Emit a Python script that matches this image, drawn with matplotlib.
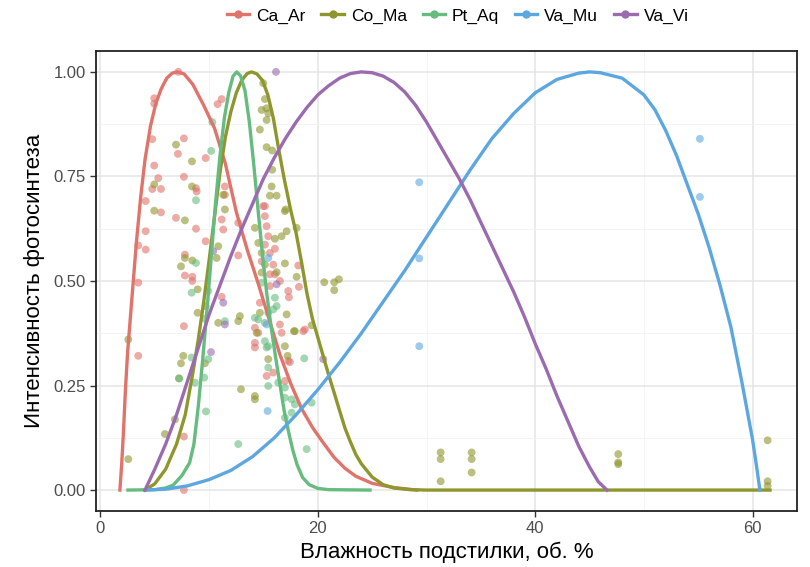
import matplotlib
matplotlib.use("Agg")
import matplotlib.pyplot as plt
from matplotlib.lines import Line2D
from matplotlib.ticker import MultipleLocator, FuncFormatter

plt.rcParams['font.family'] = ['Liberation Sans', 'DejaVu Sans']

species = ['Ca_Ar', 'Co_Ma', 'Pt_Aq', 'Va_Mu', 'Va_Vi']
colors = ['#E0736A', '#8E962E', '#66BB7E', '#5DA7E1', '#9B6BB0']

# observed points (moisture %, photosynthesis intensity)
ca_ar_x = [7.16, 4.95, 4.95, 4.77, 7.68, 7.13, 4.95, 5.32, 4.77, 5.57, 7.68, 8.79, 8.85, 9.68,
           10.78, 11.15, 4.16, 5.57, 6.95, 4.16, 3.48, 4.16, 3.48, 8.79, 7.77, 9.68, 7.77, 8.45,
           8.45, 7.68, 3.48, 7.68, 7.68, 11.45, 11.45, 15.13, 11.15, 11.3, 12.68, 12.68, 14.98,
           15.13, 15.29, 15.44, 15.13, 15.59, 16.05, 14.83, 15.9, 16.05, 16.51, 15.59, 18.2, 18.26,
           17.34, 14.67, 11.15, 14.21, 14.52, 16.51, 16.67, 18.81, 14.21, 14.21, 15.59, 15.29,
           17.43, 16.97, 15.9, 17.28, 18.66, 17.28]
ca_ar_y = [1.0, 0.937, 0.924, 0.839, 0.841, 0.804, 0.776, 0.746, 0.72, 0.72, 0.749, 0.722, 0.714, 0.794,
           0.923, 0.935, 0.691, 0.664, 0.651, 0.619, 0.585, 0.575, 0.496, 0.625, 0.563, 0.595, 0.513, 0.51,
           0.50, 0.392, 0.321, 0.128, 0.0, 0.726, 0.706, 0.679, 0.647, 0.623, 0.639, 0.561, 0.679,
           0.655, 0.631, 0.607, 0.587, 0.567, 0.577, 0.547, 0.539, 0.516, 0.5, 0.488, 0.537, 0.486,
           0.461, 0.448, 0.462, 0.388, 0.376, 0.396, 0.376, 0.384, 0.352, 0.341, 0.516, 0.273,
           0.306, 0.261, 0.281, 0.476, 0.38, 0.309]

co_ma_x = [6.95, 8.42, 8.42, 4.95, 4.95, 7.77, 7.77, 8.45, 7.41, 8.94, 9.68, 8.94, 2.56, 2.56, 7.62,
           7.41, 7.22, 9.61, 5.93, 6.85, 14.98, 15.13, 14.83, 15.29, 15.44, 15.29, 14.67, 15.29, 15.8,
           15.8, 15.75, 16.21, 15.59, 17.04, 11.3, 11.45, 14.21, 16.97, 17.13, 16.67, 16.05, 18.05,
           14.52, 14.83, 15.13, 16.97, 16.21, 18.05, 14.83, 10.84, 10.69, 20.59, 21.51, 21.94, 21.51,
           12.83, 12.68, 17.13, 17.89, 19.43, 16.97, 14.37, 14.67, 10.84, 17.22, 12.93, 14.21, 14.21,
           15.44, 17.8, 31.3, 31.3, 31.3, 34.15, 34.15, 34.15, 47.64, 47.64, 47.64, 61.38, 61.38, 61.38]
co_ma_y = [0.826, 0.786, 0.726, 0.731, 0.668, 0.645, 0.555, 0.549, 0.535, 0.48, 0.44, 0.424, 0.36, 0.074, 0.321,
           0.303, 0.267, 0.303, 0.134, 0.169, 0.973, 0.935, 0.909, 0.913, 0.901, 0.885, 0.862, 0.82, 0.812,
           0.766, 0.726, 0.704, 0.704, 0.671, 0.706, 0.671, 0.627, 0.667, 0.619, 0.607, 0.601, 0.627,
           0.591, 0.567, 0.539, 0.542, 0.521, 0.51, 0.52, 0.583, 0.555, 0.497, 0.497, 0.504, 0.478,
           0.416, 0.404, 0.42, 0.38, 0.394, 0.344, 0.376, 0.424, 0.4, 0.321, 0.241, 0.225, 0.217,
           0.313, 0.38, 0.09, 0.074, 0.021, 0.09, 0.074, 0.042, 0.086, 0.066, 0.062, 0.119, 0.021, 0.01]

pt_aq_x = [10.29, 10.19, 8.79, 8.79, 8.39, 9.92, 9.61, 8.39, 7.25, 9.55, 8.69, 9.71, 9.92, 14.52, 15.13,
           16.05, 16.21, 15.44, 14.83, 15.13, 15.44, 11.45, 15.9, 14.21, 15.29, 15.44, 16.36, 16.97,
           16.97, 17.59, 17.89, 19.43, 17.59, 16.97, 18.75, 12.68, 18.97, 15.44]
pt_aq_y = [0.88, 0.811, 0.693, 0.543, 0.472, 0.476, 0.41, 0.317, 0.267, 0.269, 0.257, 0.188, 0.313, 0.408, 0.4,
           0.46, 0.44, 0.424, 0.496, 0.356, 0.344, 0.404, 0.432, 0.412, 0.341, 0.293, 0.257, 0.245,
           0.221, 0.217, 0.205, 0.209, 0.185, 0.173, 0.315, 0.11, 0.098, 0.249]

va_mu_x = [15.44, 15.29, 15.38, 29.33, 29.33, 29.33, 55.15, 55.15]
va_mu_y = [0.555, 0.396, 0.189, 0.736, 0.554, 0.344, 0.701, 0.84]

va_vi_x = [10.38, 10.17, 16.15, 11.3, 11.45, 16.21, 20.5]
va_vi_y = [0.571, 0.33, 1.0, 0.448, 0.396, 0.492, 0.313]

# fitted response curves
ca_ar_cx = [1.79, 1.95, 2.1, 2.3, 2.5, 2.9, 3.3, 3.7, 4.1, 4.6, 5.1, 5.6, 6.1, 6.6, 7.1, 7.7, 8.5, 9.5,
            10.5, 11.5, 12.5, 13.5, 14.5, 15.5, 16.5, 17.5, 18.5, 19.5, 20.5, 21.5, 22.5, 23.5, 25.0,
            27.0, 29.1]
ca_ar_cy = [0.0, 0.06, 0.13, 0.24, 0.33, 0.46, 0.59, 0.70, 0.79, 0.87, 0.925, 0.96, 0.985, 0.997, 1.0,
            0.995, 0.97, 0.92, 0.865, 0.78, 0.665, 0.575, 0.495, 0.41, 0.325, 0.255, 0.195, 0.15,
            0.113, 0.078, 0.052, 0.033, 0.016, 0.006, 0.0]

co_ma_cx = [4.1, 5.0, 6.0, 7.0, 7.8, 8.5, 9.0, 9.5, 10.0, 10.5, 11.0, 11.5, 12.0, 12.5, 13.0, 13.5,
            13.9, 14.4, 14.9, 15.4, 15.9, 16.4, 16.9, 17.5, 18.0, 18.5, 19.0, 19.5, 20.0, 20.5, 21.0,
            21.5, 22.0, 22.5, 23.0, 23.5, 24.0, 25.0, 26.0, 27.0, 28.5, 30.0, 61.6]
co_ma_cy = [0.0, 0.015, 0.05, 0.11, 0.18, 0.28, 0.36, 0.45, 0.55, 0.655, 0.76, 0.845, 0.905, 0.95,
            0.98, 0.996, 1.0, 0.995, 0.98, 0.945, 0.89, 0.815, 0.745, 0.67, 0.615, 0.545, 0.47, 0.41,
            0.365, 0.32, 0.275, 0.233, 0.19, 0.148, 0.115, 0.085, 0.063, 0.031, 0.013, 0.005, 0.001,
            0.0, 0.0]

pt_aq_cx = [2.53, 5.0, 6.0, 6.7, 7.5, 8.2, 8.6, 9.0, 9.4, 9.8, 10.2, 10.6, 11.0, 11.4, 11.8, 12.2,
            12.55, 12.9, 13.3, 13.7, 14.1, 14.5, 14.9, 15.3, 15.7, 16.1, 16.5, 16.9, 17.3, 17.7, 18.1,
            18.6, 19.2, 20.0, 21.0, 24.8]
pt_aq_cy = [0.0, 0.001, 0.005, 0.012, 0.035, 0.065, 0.11, 0.2, 0.31, 0.43, 0.56, 0.69, 0.8, 0.89, 0.95,
            0.99, 1.0, 0.99, 0.955, 0.88, 0.78, 0.67, 0.565, 0.47, 0.39, 0.32, 0.255, 0.19, 0.14, 0.095,
            0.06, 0.03, 0.013, 0.004, 0.001, 0.0]

va_mu_cx = [4.09, 6.0, 8.0, 10.0, 12.0, 14.0, 16.0, 18.0, 20.0, 22.0, 24.0, 26.0, 28.0, 30.0, 32.0,
            34.0, 36.0, 38.0, 40.0, 42.0, 44.0, 45.0, 46.0, 48.0, 50.0, 51.0, 52.0, 53.0, 54.0, 55.0,
            56.0, 57.0, 58.0, 59.0, 60.0, 60.4, 60.67]
va_mu_cy = [0.0, 0.002, 0.01, 0.025, 0.047, 0.08, 0.125, 0.18, 0.24, 0.305, 0.375, 0.45, 0.525, 0.605,
            0.685, 0.765, 0.84, 0.9, 0.95, 0.982, 0.997, 1.0, 0.998, 0.985, 0.945, 0.91, 0.86, 0.8,
            0.73, 0.66, 0.58, 0.49, 0.39, 0.26, 0.12, 0.05, 0.0]

va_vi_cx = [4.1, 5.0, 6.0, 7.0, 8.0, 9.0, 10.0, 11.0, 12.0, 13.0, 14.0, 15.0, 16.0, 17.0, 18.0, 19.0,
            20.0, 21.0, 22.0, 23.0, 24.0, 25.0, 26.0, 27.0, 28.0, 29.0, 30.0, 31.0, 32.0, 33.0, 34.0,
            35.0, 36.0, 37.0, 38.0, 39.0, 40.0, 41.0, 42.0, 43.0, 44.0, 45.0, 45.8, 46.6]
va_vi_cy = [0.0, 0.05, 0.11, 0.18, 0.26, 0.34, 0.42, 0.49, 0.56, 0.625, 0.685, 0.745, 0.795, 0.84,
            0.88, 0.915, 0.945, 0.967, 0.985, 0.996, 1.0, 0.998, 0.99, 0.975, 0.952, 0.92, 0.88, 0.835,
            0.79, 0.745, 0.695, 0.64, 0.585, 0.53, 0.475, 0.415, 0.35, 0.29, 0.225, 0.165, 0.105, 0.055,
            0.02, 0.0]

points = [(ca_ar_x, ca_ar_y), (co_ma_x, co_ma_y), (pt_aq_x, pt_aq_y), (va_mu_x, va_mu_y), (va_vi_x, va_vi_y)]
curves = [(ca_ar_cx, ca_ar_cy), (co_ma_cx, co_ma_cy), (pt_aq_cx, pt_aq_cy), (va_mu_cx, va_mu_cy),
          (va_vi_cx, va_vi_cy)]

fig = plt.figure(figsize=(8.1, 5.67), dpi=100)
ax = fig.add_axes([0.1185, 0.0988, 0.8654, 0.8113])

for (px, py), c in zip(points, colors):
    ax.scatter(px, py, s=32, color=c, alpha=0.6, edgecolors='none', zorder=2)
for (cx, cy), c in zip(curves, colors):
    ax.plot(cx, cy, color=c, lw=2.4, zorder=3, solid_joinstyle='round')

ax.set_xlim(-0.41, 64.08)
ax.set_ylim(-0.05, 1.05)
ax.xaxis.set_major_locator(MultipleLocator(20))
ax.xaxis.set_minor_locator(MultipleLocator(10))
ax.yaxis.set_major_locator(MultipleLocator(0.25))
ax.yaxis.set_minor_locator(MultipleLocator(0.125))
ax.yaxis.set_major_formatter(FuncFormatter(lambda v, p: f'{v:.2f}'))
ax.grid(which='major', color='#E5E5E5', lw=1.1, zorder=0)
ax.grid(which='minor', color='#F2F2F2', lw=0.6, zorder=0)
ax.set_axisbelow(True)
ax.tick_params(which='major', length=4, width=1, color='#333333', labelsize=12, labelcolor='#4D4D4D')
ax.tick_params(which='minor', length=0)
for sp in ax.spines.values():
    sp.set_color('#222222')
    sp.set_linewidth(1.3)

ax.set_xlabel('Влажность подстилки, об. %', fontsize=16, labelpad=4)
ax.set_ylabel('Интенсивность фотосинтеза', fontsize=16, labelpad=6)

handles = [Line2D([], [], color=c, lw=2.4, marker='o', ms=5) for c in colors]
fig.legend(handles, species, loc='center', bbox_to_anchor=(0.565, 0.972), ncol=5, frameon=False,
           fontsize=12.5, handlelength=1.3, handletextpad=0.4, columnspacing=0.9)

fig.savefig('out.png', dpi=100)
